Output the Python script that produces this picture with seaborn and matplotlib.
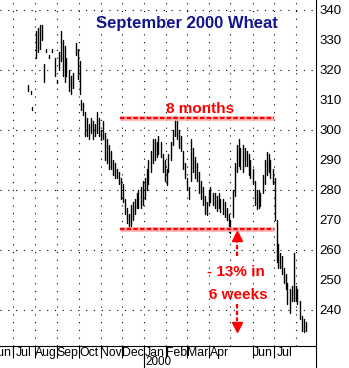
import matplotlib
matplotlib.use("Agg")
import matplotlib.pyplot as plt
import matplotlib.transforms as mtransforms
import seaborn as sns
import pandas as pd

# ---------------- data ----------------
dates = [
    "1999-07-22", "1999-07-26", "1999-07-28",
    "1999-08-02", "1999-08-05", "1999-08-08", "1999-08-10",
    "1999-08-13", "1999-08-16", "1999-08-20", "1999-08-24",
    "1999-08-29", "1999-09-01",
    "1999-09-03", "1999-09-06", "1999-09-09", "1999-09-12", "1999-09-14",
    "1999-09-17", "1999-09-20", "1999-09-23",
    "1999-09-27", "1999-09-30", "1999-10-03",
    "1999-10-04", "1999-10-07", "1999-10-10",
    "1999-10-13", "1999-10-15", "1999-10-18", "1999-10-21", "1999-10-24", "1999-10-27", "1999-10-29",
    "1999-11-01", "1999-11-04", "1999-11-07", "1999-11-10", "1999-11-12", "1999-11-15", "1999-11-18",
    "1999-11-21", "1999-11-24", "1999-11-26",
    "1999-11-29", "1999-12-02", "1999-12-05", "1999-12-08", "1999-12-10", "1999-12-13", "1999-12-16",
    "1999-12-19", "1999-12-22", "1999-12-24",
    "1999-12-27", "1999-12-30", "2000-01-02", "2000-01-05", "2000-01-07", "2000-01-10", "2000-01-13",
    "2000-01-16", "2000-01-19", "2000-01-21", "2000-01-24", "2000-01-27", "2000-01-30",
    "2000-02-02", "2000-02-04", "2000-02-07", "2000-02-10", "2000-02-13", "2000-02-16", "2000-02-19",
    "2000-02-21", "2000-02-24", "2000-02-27",
    "2000-03-01", "2000-03-04", "2000-03-06", "2000-03-09", "2000-03-12", "2000-03-15", "2000-03-18",
    "2000-03-20", "2000-03-23", "2000-03-26", "2000-03-29",
    "2000-04-01", "2000-04-03", "2000-04-06", "2000-04-09", "2000-04-12", "2000-04-15", "2000-04-17",
    "2000-04-20", "2000-04-23", "2000-04-26", "2000-04-29",
    "2000-05-01", "2000-05-04", "2000-05-07", "2000-05-10", "2000-05-13", "2000-05-15", "2000-05-18",
    "2000-05-21", "2000-05-24", "2000-05-27", "2000-05-29",
    "2000-06-01", "2000-06-04", "2000-06-07", "2000-06-10", "2000-06-12", "2000-06-15", "2000-06-18",
    "2000-06-21", "2000-06-24", "2000-06-26", "2000-06-29",
    "2000-07-02", "2000-07-05", "2000-07-06", "2000-07-09", "2000-07-12", "2000-07-15", "2000-07-18",
    "2000-07-20", "2000-07-23", "2000-07-26", "2000-07-29",
    "2000-08-01", "2000-08-03", "2000-08-06", "2000-08-09", "2000-08-12", "2000-08-15",
]
highs = [
    315, 313, 307.5,
    333, 334, 335, 335,
    322, 327, 325, 327,
    324, 316.5,
    326, 333, 330, 328, 324,
    320, 318, 319,
    329, 327, 323,
    310, 309, 306,
    304, 302, 304, 303, 302, 306, 304,
    300, 303, 299, 297, 295, 293, 290,
    289, 287, 286,
    284, 282, 277, 274, 272, 275, 276,
    277, 279, 280,
    281, 283, 284, 287, 290, 293, 297,
    297, 296, 298, 296, 292, 290,
    287, 292, 296, 300, 304.5, 303, 300,
    298, 293, 289,
    284, 281, 297, 294, 291, 289, 286,
    283, 281, 278, 276,
    280, 281, 279, 279, 278, 279, 277,
    277, 276, 274, 272,
    270, 280, 289, 295, 297, 294, 295,
    294, 293, 292, 290,
    287, 283, 280, 280, 279, 285, 290,
    292.7, 292, 290, 287,
    284, 270, 262, 259, 258, 254, 252,
    249, 247, 248, 259,
    248, 247, 243, 238, 237, 236,
]
lows = [
    313, 312, 306.5,
    324, 326, 327, 330,
    316, 326, 324, 326,
    318, 315.5,
    320, 323, 318, 316, 318,
    313, 312, 314,
    325, 317, 312,
    306.7, 305, 298,
    298, 297, 299, 297, 298, 299, 298,
    296.7, 297, 290, 289, 287, 287, 285,
    284, 284, 282,
    277, 276, 272, 269, 267.5, 268, 270,
    272, 274, 274,
    274, 275, 277, 280, 282, 286, 289,
    290, 291, 292, 291, 286, 283,
    281.7, 286, 290, 295, 298, 297, 294,
    293, 287, 284,
    280, 277, 283, 286, 284, 283, 279,
    277, 275, 272, 271.5,
    275, 276, 275, 274, 273, 274, 272.7,
    272, 271, 270, 266,
    265.7, 271, 278, 286, 288, 287, 286,
    288, 288, 285, 284,
    282, 275, 273.5, 274, 274.5, 279, 282,
    285, 286, 284, 282,
    270, 256, 254, 254, 252, 249, 247,
    242, 239, 243, 243,
    243, 242, 237, 233, 232.5, 233,
]

month_starts = ["1999-07-01", "1999-08-01", "1999-09-01", "1999-10-01", "1999-11-01",
                "1999-12-01", "2000-01-01", "2000-02-01", "2000-03-01", "2000-04-01",
                "2000-05-01", "2000-06-01", "2000-07-01", "2000-08-01"]
separator_months = ["1999-07-01", "1999-08-01", "1999-09-01", "1999-10-01", "1999-11-01",
                    "1999-12-01", "2000-01-01", "2000-02-01", "2000-03-01", "2000-04-01",
                    "2000-06-01", "2000-07-01"]
month_labels = ["Jun", "Jul", "Aug", "Sep", "Oct", "Nov", "Dec", "Jan", "Feb", "Mar",
                "Apr", "Jun", "Jul"]
month_label_pos = ["1999-06-15", "1999-07-16", "1999-08-16", "1999-09-15", "1999-10-16",
                   "1999-11-15", "1999-12-16", "2000-01-16", "2000-02-15", "2000-03-16",
                   "2000-04-15", "2000-06-15", "2000-07-16"]
y_ticks = [240, 250, 260, 270, 280, 290, 300, 310, 320, 330, 340]
grid_y = [240, 260, 280, 300, 320, 340]
resistance = 304
support = 267
range_start = "1999-11-28"
range_end = "2000-07-01"
arrow_date = "2000-05-10"

# ---------------- figure ----------------
sns.set_theme(style="white")
plt.rcParams["font.family"] = ["Liberation Sans", "DejaVu Sans"]

W, H = 349, 368
fig = plt.figure(figsize=(W / 100, H / 100), dpi=100)
ax = fig.add_axes([0, 22 / H, 316 / W, 346 / H])

# grid
for ms in month_starts:
    ax.axvline(pd.Timestamp(ms), color="black", lw=0.8, ls=(0, (1, 6)), zorder=0)
for gy in grid_y:
    ax.axhline(gy, color="black", lw=0.8, ls=(0, (1, 6)), zorder=0)

# price bars
df = pd.DataFrame({"date": pd.to_datetime(dates), "high": highs, "low": lows})
df["bar"] = range(len(df))
long = df.melt(id_vars=["date", "bar"], value_vars=["high", "low"], value_name="price")
sns.lineplot(data=long, x="date", y="price", units="bar", estimator=None,
             color="black", lw=1.0, sort=False, ax=ax, zorder=3)

# range lines
rs, re_ = pd.Timestamp(range_start), pd.Timestamp(range_end)
for lvl in (resistance, support):
    ax.plot([rs, re_], [lvl, lvl], color="#ffb0b0", lw=3.4, solid_capstyle="butt", zorder=4)
    ax.plot([rs, re_], [lvl, lvl], color="#ff0000", lw=1.6, dashes=(2.0, 1.0), zorder=5)

# arrows
ad = pd.Timestamp(arrow_date)
ax.plot([ad, ad], [258, 263.6], color="#ff0000", lw=1.6, dashes=(2.0, 1.0), zorder=5)
ax.plot([ad], [264.6], marker="^", ms=7, color="#ff0000", zorder=5)
ax.plot([ad, ad], [242, 236.2], color="#ff0000", lw=1.6, dashes=(2.0, 1.0), zorder=5)
ax.plot([ad], [234.4], marker="v", ms=7, color="#ff0000", zorder=5)

# texts
ax.text(0.593, 0.918, "September 2000 Wheat", transform=ax.transAxes, ha="center",
        va="baseline", fontsize=12, fontweight="bold", color="#14148c")
ax.text(pd.Timestamp("2000-03-19"), 305.7, "8 months", ha="center", va="baseline",
        fontsize=11, fontweight="bold", color="#ff0000", zorder=6)
ax.text(pd.Timestamp("2000-05-09"), 251.3, "- 13% in", ha="center", va="baseline",
        fontsize=11, fontweight="bold", color="#ff0000", zorder=6)
ax.text(pd.Timestamp("2000-05-12"), 243.7, "6 weeks", ha="center", va="baseline",
        fontsize=11, fontweight="bold", color="#ff0000", zorder=6)

# axes
ax.set_xlim(pd.Timestamp("1999-06-12 18:00"), pd.Timestamp("2000-08-29"))
ax.set_ylim(228.0, 343.33)
ax.set_xlabel("")
ax.set_ylabel("")
ax.yaxis.tick_right()
ax.set_yticks(y_ticks)
ax.tick_params(axis="y", length=0, pad=2.5, labelsize=9.5, labelcolor="black")

ax.set_xticks(pd.to_datetime(separator_months))
ax.set_xticklabels([])
ax.set_xticks(pd.to_datetime(month_label_pos), minor=True)
ax.set_xticklabels(month_labels, minor=True)
ax.tick_params(axis="x", which="major", length=8.6, width=0.8, direction="out",
               color="black", bottom=True)
ax.tick_params(axis="x", which="minor", length=0, pad=1.0, labelsize=8.8,
               labelcolor="black", bottom=True)

for s in ("top", "left"):
    ax.spines[s].set_visible(False)
for s in ("right", "bottom"):
    ax.spines[s].set_color("black")
    ax.spines[s].set_linewidth(0.8)

ext = -22 / 346
ax.plot([1, 1], [0, ext], transform=ax.transAxes, color="black", lw=0.8, clip_on=False)
blend = mtransforms.blended_transform_factory(ax.transData, ax.transAxes)
jan = pd.Timestamp("2000-01-01")
ax.plot([jan, jan], [0, ext], transform=blend, color="black", lw=0.8, clip_on=False)
ax.text(jan + pd.Timedelta(days=2), -0.047, "2000", transform=blend, ha="left",
        va="center", fontsize=8.4, color="black")

fig.savefig("out.png", dpi=100)
